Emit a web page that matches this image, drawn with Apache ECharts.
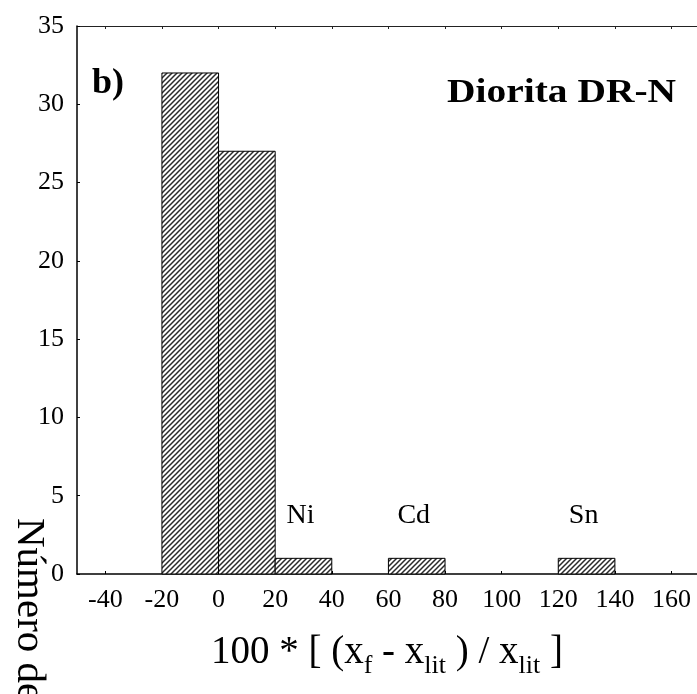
<!DOCTYPE html>
<html>
<head>
<meta charset="utf-8">
<script src="https://cdn.jsdelivr.net/npm/echarts@6/dist/echarts.min.js"></script>
<style>
  html, body { margin: 0; padding: 0; background: #fff; }
  #chart { width: 697px; height: 694px; }
</style>
</head>
<body>
<div id="chart"></div>
<script>
// Histogram bins: lower edge, upper edge, number of elements
const binStart = [-20, 0, 20, 60, 120];
const binEnd = [0, 20, 40, 80, 140];
const counts = [32, 27, 1, 1, 1];
// Element names written above the outlying bins
const binNames = ['', '', 'Ni', 'Cd', 'Sn'];
// Axis tick values
const xTicks = [-40, -20, 0, 20, 40, 60, 80, 100, 120, 140, 160];
const yTicks = [0, 5, 10, 15, 20, 25, 30, 35];

const SERIF = '"Liberation Serif", "Times New Roman", serif';

// Diagonal hatch used to fill the bars
function makeHatch() {
  const s = 5;
  const c = document.createElement('canvas');
  c.width = s; c.height = s;
  const g = c.getContext('2d');
  g.fillStyle = '#ffffff';
  g.fillRect(0, 0, s, s);
  g.strokeStyle = '#2a2a2a';
  g.lineWidth = 1.5;
  g.beginPath();
  g.moveTo(-1, s + 1); g.lineTo(s + 1, -1);
  g.moveTo(-1, 1); g.lineTo(1, -1);
  g.moveTo(s - 1, s + 1); g.lineTo(s + 1, s - 1);
  g.stroke();
  return c;
}
const hatch = makeHatch();

const histData = binStart.map((s, i) => [s, binEnd[i], counts[i]]);

const chart = echarts.init(document.getElementById('chart'), null, { renderer: 'canvas' });

const tickLabel = { fontFamily: SERIF, fontSize: 26, color: '#000' };

chart.setOption({
  animation: false,
  backgroundColor: '#ffffff',
  grid: { left: 77, right: 0, top: 26, bottom: 120, containLabel: false },
  xAxis: [
    {
      type: 'value', position: 'bottom', min: -50, max: 169,
      splitLine: { show: false },
      axisLine: { show: true, onZero: false, lineStyle: { color: '#000', width: 1.5 } },
      axisTick: { show: true, inside: true, length: 3, customValues: xTicks, lineStyle: { color: '#000' } },
      axisLabel: Object.assign({ margin: 13, customValues: xTicks, formatter: v => String(v) }, tickLabel)
    },
    {
      type: 'value', position: 'top', min: -50, max: 169,
      splitLine: { show: false },
      axisLine: { show: true, onZero: false, lineStyle: { color: '#222', width: 1 } },
      axisTick: { show: true, inside: true, length: 3, customValues: xTicks, lineStyle: { color: '#222' } },
      axisLabel: { show: false }
    }
  ],
  yAxis: {
    type: 'value', min: yTicks[0], max: yTicks[yTicks.length - 1], interval: 5,
    splitLine: { show: false },
    axisLine: { show: true, onZero: false, lineStyle: { color: '#000', width: 1.5 } },
    axisTick: { show: true, inside: true, length: 3, lineStyle: { color: '#000' } },
    axisLabel: Object.assign({ margin: 13 }, tickLabel)
  },
  series: [{
    type: 'custom',
    xAxisIndex: 0,
    data: histData,
    encode: { x: [0, 1], y: 2 },
    renderItem: function (params, api) {
      const top = api.coord([api.value(0), api.value(2)]);
      const bot = api.coord([api.value(1), 0]);
      const children = [{
        type: 'rect',
        shape: { x: top[0], y: top[1], width: bot[0] - top[0], height: bot[1] - top[1] },
        style: { fill: { type: 'pattern', image: hatch, repeat: 'repeat' }, stroke: '#000', lineWidth: 1 }
      }];
      const name = binNames[params.dataIndex];
      if (name) {
        children.push({
          type: 'text',
          x: (top[0] + bot[0]) / 2 - 3,
          y: top[1] - 29,
          style: { text: name, font: '28px ' + SERIF, fill: '#000', align: 'center', verticalAlign: 'bottom' }
        });
      }
      return { type: 'group', children: children };
    }
  }],
  graphic: [
    {
      type: 'text', x: 92, y: 84,
      style: { text: 'b)', font: 'bold 36px ' + SERIF, fill: '#000', align: 'left', verticalAlign: 'middle' }
    },
    {
      type: 'text', x: 676, y: 93, scaleX: 1.16,
      style: { text: 'Diorita DR-N', font: 'bold 34px ' + SERIF, fill: '#000', align: 'right', verticalAlign: 'middle' }
    },
    {
      type: 'text', x: 387, y: 653,
      style: {
        text: '{m|100 * [ (x}{s|f}{m| - x}{s|lit}{m| ) / x}{s|lit}{m| ]}',
        align: 'center', verticalAlign: 'middle', fill: '#000',
        rich: {
          m: { fontFamily: SERIF, fontSize: 39, lineHeight: 52, verticalAlign: 'middle', color: '#000' },
          s: { fontFamily: SERIF, fontSize: 26, lineHeight: 26, verticalAlign: 'bottom', color: '#000' }
        }
      }
    },
    {
      type: 'text', x: 29, y: 518, rotation: -Math.PI / 2,
      style: { text: 'Número de elementos', font: '41px ' + SERIF, fill: '#000', align: 'left', verticalAlign: 'middle' }
    }
  ]
});
</script>
</body>
</html>
